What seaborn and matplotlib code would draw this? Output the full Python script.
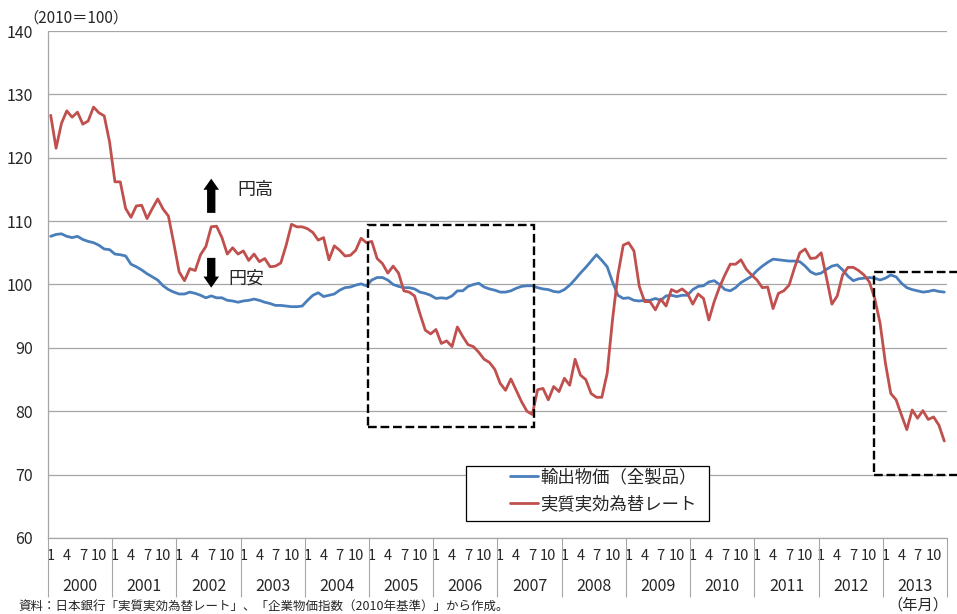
import numpy as np
import pandas as pd
import matplotlib
matplotlib.use("Agg")
import matplotlib.pyplot as plt
from matplotlib.patches import Rectangle
import seaborn as sns

# ---------------- data ----------------
years = list(range(2000, 2014))
month_labels_shown = ["1", "4", "7", "10"]
series_names = ["輸出物価（全製品）", "実質実効為替レート"]

export_price = [
    107.6, 107.9, 108.0, 107.6, 107.4, 107.6, 107.1, 106.8, 106.6, 106.2, 105.6, 105.5,  # 2000
    104.8, 104.7, 104.5, 103.2, 102.8, 102.3, 101.7, 101.2, 100.7, 99.8, 99.2, 98.8,     # 2001
    98.5, 98.5, 98.8, 98.6, 98.3, 97.9, 98.2, 97.9, 97.9, 97.5, 97.4, 97.2,              # 2002
    97.4, 97.5, 97.7, 97.5, 97.2, 97.0, 96.7, 96.7, 96.6, 96.5, 96.5, 96.6,              # 2003
    97.5, 98.3, 98.7, 98.1, 98.3, 98.5, 99.1, 99.5, 99.6, 99.9, 100.1, 99.8,             # 2004
    100.7, 101.1, 101.1, 100.7, 100.0, 99.7, 99.5, 99.5, 99.3, 98.8, 98.6, 98.3,         # 2005
    97.8, 97.9, 97.8, 98.2, 99.0, 99.0, 99.7, 100.0, 100.2, 99.6, 99.3, 99.1,            # 2006
    98.8, 98.8, 99.0, 99.4, 99.7, 99.8, 99.8, 99.5, 99.3, 99.2, 98.9, 98.8,              # 2007
    99.2, 99.9, 100.8, 101.8, 102.7, 103.7, 104.7, 103.8, 102.8, 100.4, 98.3, 97.8,      # 2008
    97.9, 97.5, 97.4, 97.5, 97.5, 97.8, 97.5, 98.2, 98.3, 98.1, 98.3, 98.3,              # 2009
    99.2, 99.7, 99.8, 100.4, 100.6, 100.0, 99.2, 99.0, 99.5, 100.3, 100.8, 101.3,        # 2010
    102.2, 102.9, 103.5, 104.0, 103.9, 103.8, 103.7, 103.7, 103.6, 102.9, 102.0, 101.6,  # 2011
    101.8, 102.4, 102.9, 103.1, 102.3, 101.3, 100.6, 100.9, 101.0, 101.1, 101.0, 100.7,  # 2012
    101.0, 101.5, 101.2, 100.2, 99.5, 99.2, 99.0, 98.8, 98.9, 99.1, 98.9, 98.8,          # 2013
]

reer = [
    126.7, 121.5, 125.4, 127.4, 126.4, 127.2, 125.3, 125.8, 128.0, 127.1, 126.6, 122.5,  # 2000
    116.2, 116.2, 112.0, 110.6, 112.4, 112.5, 110.4, 112.0, 113.5, 111.9, 110.8, 106.5,  # 2001
    102.0, 100.6, 102.5, 102.2, 104.7, 106.0, 109.1, 109.2, 107.4, 104.8, 105.8, 104.8,  # 2002
    105.3, 103.8, 104.8, 103.6, 104.1, 102.8, 102.9, 103.4, 106.2, 109.5, 109.1, 109.1,  # 2003
    108.8, 108.2, 107.0, 107.4, 103.9, 106.1, 105.4, 104.5, 104.6, 105.4, 107.3, 106.6,  # 2004
    106.8, 104.1, 103.3, 101.8, 102.9, 101.8, 99.0, 98.8, 98.2, 95.4, 92.8, 92.2,        # 2005
    92.9, 90.7, 91.1, 90.2, 93.3, 91.8, 90.5, 90.2, 89.3, 88.2, 87.7, 86.6,              # 2006
    84.4, 83.3, 85.1, 83.3, 81.5, 80.0, 79.5, 83.4, 83.6, 81.8, 83.9, 83.1,              # 2007
    85.2, 84.1, 88.2, 85.7, 85.0, 82.8, 82.2, 82.2, 86.0, 94.5, 101.5, 106.2,            # 2008
    106.6, 105.3, 99.7, 97.3, 97.3, 96.0, 97.7, 96.6, 99.2, 98.8, 99.3, 98.6,            # 2009
    96.9, 98.5, 97.8, 94.4, 97.3, 99.6, 101.5, 103.2, 103.2, 103.9, 102.4, 101.5,        # 2010
    100.7, 99.5, 99.6, 96.2, 98.6, 99.0, 99.9, 102.6, 105.0, 105.6, 104.1, 104.2,        # 2011
    105.0, 101.0, 96.9, 98.2, 101.5, 102.7, 102.7, 102.2, 101.5, 100.4, 97.8, 93.9,      # 2012
    87.6, 82.8, 81.8, 79.4, 77.1, 80.2, 78.9, 80.1, 78.7, 79.1, 77.8, 75.3,              # 2013
]

n_months = len(reer)
idx = np.arange(n_months)
df = pd.DataFrame({
    "idx": np.concatenate([idx, idx]),
    "value": export_price + reer,
    "series": [series_names[0]] * n_months + [series_names[1]] * n_months,
})

# ---------------- style ----------------
sns.set_style("white")
plt.rcParams["font.family"] = ["Noto Sans CJK JP", "DejaVu Sans"]

BLUE = "#4A7EBB"
RED = "#C0504D"
GRAY = "#A6A6A6"

fig = plt.figure(figsize=(9.57, 6.14), dpi=100)
ax = fig.add_axes([0.0502, 0.1238, 0.9393, 0.8257])

sns.lineplot(data=df, x="idx", y="value", hue="series", hue_order=series_names,
             palette=[BLUE, RED], linewidth=2.0, ax=ax, legend=True, zorder=3)

ax.set_xlim(-0.5, n_months - 0.5)
ax.set_ylim(60, 140)
ax.set_xlabel("")
ax.set_ylabel("")

# y axis
ax.set_yticks(range(60, 141, 10))
ax.yaxis.grid(True, color=GRAY, linewidth=0.9)
ax.xaxis.grid(False)
ax.tick_params(axis="y", length=3, color=GRAY, width=0.8, pad=8, labelsize=11.5)
for s in ["top", "right"]:
    ax.spines[s].set_visible(False)
for s in ["left", "bottom"]:
    ax.spines[s].set_color(GRAY)
    ax.spines[s].set_linewidth(0.9)

# x axis: month boundaries (major) + month labels (minor)
boundaries = np.arange(-0.5, n_months, 1.0)
ax.set_xticks(boundaries)
ax.tick_params(axis="x", which="major", length=21.5, color=GRAY, width=0.8,
               direction="out", labelbottom=False)
ax.set_xticks(idx, minor=True)
mlabels = [str(i % 12 + 1) if str(i % 12 + 1) in month_labels_shown else "" for i in idx]
ax.set_xticklabels(mlabels, minor=True)
ax.tick_params(axis="x", which="minor", length=0, pad=8, labelsize=10.5)

xtr = ax.get_xaxis_transform()
year_bounds = [12 * k - 0.5 for k in range(len(years) + 1)]
ax.vlines(year_bounds, -0.117, 0, transform=xtr, colors=GRAY, linewidth=0.8, clip_on=False)
for k, yr in enumerate(years):
    ax.text(12 * k + 5.5, -0.095, str(yr), transform=xtr, ha="center", va="center",
            fontsize=11.5)

# dashed boxes
ax.add_patch(Rectangle((59.3, 77.5), 90.4 - 59.3, 109.4 - 77.5, fill=False,
                       edgecolor="black", linestyle="--", linewidth=1.7, zorder=4))
ax.add_patch(Rectangle((153.9, 70.0), 180 - 153.9, 101.9 - 70.0, fill=False,
                       edgecolor="black", linestyle="--", linewidth=1.7, zorder=4,
                       clip_on=False))

# arrows + labels
arrow_kw = dict(arrowstyle="simple,head_length=0.4,head_width=0.56,tail_width=0.3",
                fc="black", ec="none", shrinkA=0, shrinkB=0, mutation_scale=20)
ax.annotate("", xy=(30.0, 116.7), xytext=(30.0, 111.3), arrowprops=arrow_kw, zorder=5)
ax.annotate("", xy=(30.0, 99.5), xytext=(30.0, 104.2), arrowprops=arrow_kw, zorder=5)
ax.text(34.8, 114.9, "円高", fontsize=13, va="center", ha="left")
ax.text(33.2, 101.0, "円安", fontsize=13, va="center", ha="left")

# legend
leg_box = Rectangle((0.465, 0.0335), 0.735 - 0.465, 0.142 - 0.0335, transform=ax.transAxes,
                    facecolor="white", edgecolor="black", linewidth=0.9, zorder=6)
ax.add_patch(leg_box)
handles, labels = ax.get_legend_handles_labels()
leg = ax.legend(handles, labels, loc="upper left", bbox_to_anchor=(0.514, 0.137),
                frameon=False, borderpad=0, borderaxespad=0, handlelength=1.6,
                handletextpad=0.15, labelspacing=0.5, fontsize=12.5)
leg.set_zorder(7)

# header / footer texts
fig.text(23 / 957, 1 - 18 / 614, "（2010＝100）", fontsize=11, ha="left", va="center")
fig.text(18 / 957, 1 / 614,
         "資料：日本銀行「実質実効為替レート」、「企業物価指数（2010年基準）」から作成。",
         fontsize=9, ha="left", va="bottom")
fig.text(918 / 957, 1 - 605 / 614, "（年月）", fontsize=11, ha="center", va="center")

fig.savefig("out.png", dpi=100)
